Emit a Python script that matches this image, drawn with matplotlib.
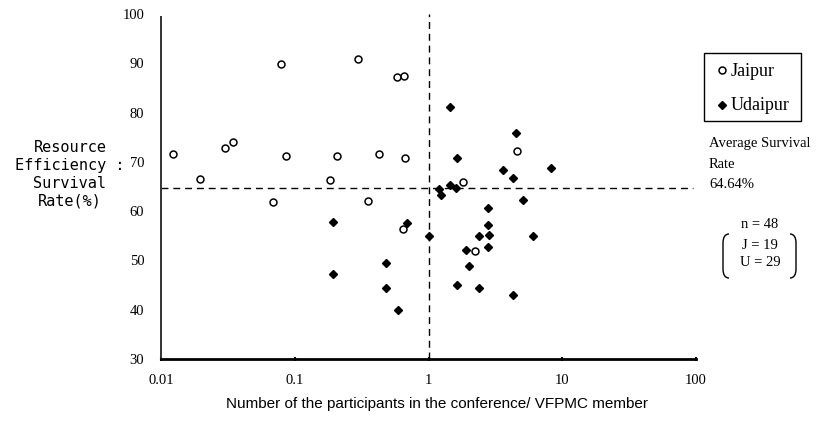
import matplotlib
matplotlib.use("Agg")
import matplotlib.pyplot as plt
from matplotlib.patches import Rectangle, PathPatch
from matplotlib.path import Path
from matplotlib.lines import Line2D

# Jaipur (open circles)
jaipur_x = [0.0123, 0.0196, 0.0302, 0.0345, 0.0789, 0.0865, 0.0684, 0.184, 0.207,
            0.296, 0.429, 0.355, 0.581, 0.659, 0.671, 0.641, 1.80, 4.61, 2.24]
jaipur_y = [71.5, 66.5, 72.9, 74.1, 89.8, 71.2, 61.8, 66.3, 71.2,
            90.9, 71.5, 62.1, 87.2, 87.4, 70.7, 56.4, 66.0, 72.3, 51.9]

# Udaipur (filled diamonds)
udaipur_x = [1.45, 1.63, 1.19, 1.23, 1.44, 1.61, 4.54, 3.62, 4.26, 8.24,
             5.06, 2.79, 0.194, 0.69, 1.01, 0.478, 0.194, 0.478, 0.589, 1.63,
             2.79, 2.37, 2.85, 2.79, 1.92, 6.08, 2.01, 2.37, 4.29]
udaipur_y = [81.1, 70.8, 64.5, 63.3, 65.4, 64.6, 75.8, 68.3, 66.7, 68.8,
             62.3, 60.6, 57.7, 57.5, 54.9, 49.4, 47.3, 44.4, 40.0, 45.0,
             57.2, 54.9, 55.2, 52.8, 52.2, 54.9, 48.9, 44.4, 43.0]

avg_rate = 64.64
x_ticks = [0.01, 0.1, 1, 10, 100]
x_ticklabels = ["0.01", "0.1", "1", "10", "100"]
y_ticks = [30, 40, 50, 60, 70, 80, 90, 100]

W, H = 819, 421
serif = "Liberation Serif"


def fx(px):
    return px / W


def fy(py):
    return 1 - py / H


fig = plt.figure(figsize=(W / 100, H / 100), dpi=100)
ax = fig.add_axes([fx(161), fy(359), (696 - 161) / W, (359 - 14) / H])

ax.plot(jaipur_x, jaipur_y, "o", ms=5, mfc="white", mec="black", mew=1.1, ls="none")
ax.plot(udaipur_x, udaipur_y, "D", ms=4.3, mfc="black", mec="black", ls="none")

# average line and x = 1 line
ax.axhline(avg_rate, xmin=0, xmax=0.994, color="black", lw=1, ls=(0, (5, 3.5)))
ax.axvline(1, color="black", lw=1, ls=(0, (5, 3.5)), clip_on=False)

ax.set_xscale("log")
ax.set_xlim(0.01, 100)
ax.set_ylim(30, 100)
ax.set_xticks(x_ticks)
ax.set_xticklabels(x_ticklabels)
ax.minorticks_off()
ax.set_yticks(y_ticks)
ax.tick_params(axis="x", length=3, width=1.5, direction="inout", pad=9, labelsize=10.5)
ax.tick_params(axis="y", length=0, pad=12, labelsize=10.5)
for lab in ax.get_xticklabels() + ax.get_yticklabels():
    lab.set_fontfamily(serif)

for s in ["top", "right"]:
    ax.spines[s].set_visible(False)
ax.spines["bottom"].set_linewidth(2)
ax.spines["left"].set_linewidth(1.4)
ax.spines["left"].set_color("#333333")
ax.spines["left"].set_bounds(30, 99.3)

fig.text(fx(437), fy(404), "Number of the participants in the conference/ VFPMC member",
         ha="center", va="center", fontfamily="Liberation Sans", fontsize=11)

fig.text(fx(70), fy(174), "Resource\nEfficiency :\nSurvival\nRate(%)",
         ha="center", va="center", multialignment="center",
         fontfamily="DejaVu Sans Mono", fontsize=11, linespacing=1.25)

# legend box
fig.add_artist(Rectangle((fx(704), fy(121)), (801 - 704) / W, (121 - 53) / H,
                         transform=fig.transFigure, fill=False, ec="black", lw=1))
fig.add_artist(Line2D([fx(722)], [fy(70)], marker="o", ms=5, mfc="white",
                      mec="black", mew=1.1, transform=fig.transFigure))
fig.add_artist(Line2D([fx(722)], [fy(105)], marker="D", ms=4.3, mfc="black",
                      mec="black", transform=fig.transFigure))
fig.text(fx(731), fy(71), "Jaipur", ha="left", va="center", fontfamily=serif, fontsize=13)
fig.text(fx(731), fy(106), "Udaipur", ha="left", va="center", fontfamily=serif, fontsize=13)

# average annotation
fig.text(fx(709), fy(144), "Average Survival", ha="left", va="center", fontfamily=serif, fontsize=10.5)
fig.text(fx(709), fy(164), "Rate", ha="left", va="center", fontfamily=serif, fontsize=10.5)
fig.text(fx(709), fy(185), f"{avg_rate:.2f}%", ha="left", va="center", fontfamily=serif, fontsize=10.5)

# sample sizes
fig.text(fx(760), fy(225), "n = 48", ha="center", va="center", fontfamily=serif, fontsize=10.5)
fig.text(fx(760), fy(245), "J = 19", ha="center", va="center", fontfamily=serif, fontsize=10.5)
fig.text(fx(760), fy(263), "U = 29", ha="center", va="center", fontfamily=serif, fontsize=10.5)


def bracket(xv, xt, top, bot):
    # xv: x of the vertical stroke, xt: x of the curled tips
    r = 9
    verts = [(xt, top), (xv, top), (xv, top + r), (xv, bot - r), (xv, bot), (xt, bot)]
    codes = [Path.MOVETO, Path.CURVE3, Path.CURVE3, Path.LINETO, Path.CURVE3, Path.CURVE3]
    verts = [(fx(a), fy(b)) for a, b in verts]
    fig.add_artist(PathPatch(Path(verts, codes), fill=False, ec="black", lw=1,
                             transform=fig.transFigure))


bracket(723, 729, 234, 278)
bracket(796, 790, 234, 278)

fig.savefig("out.png", dpi=100)
